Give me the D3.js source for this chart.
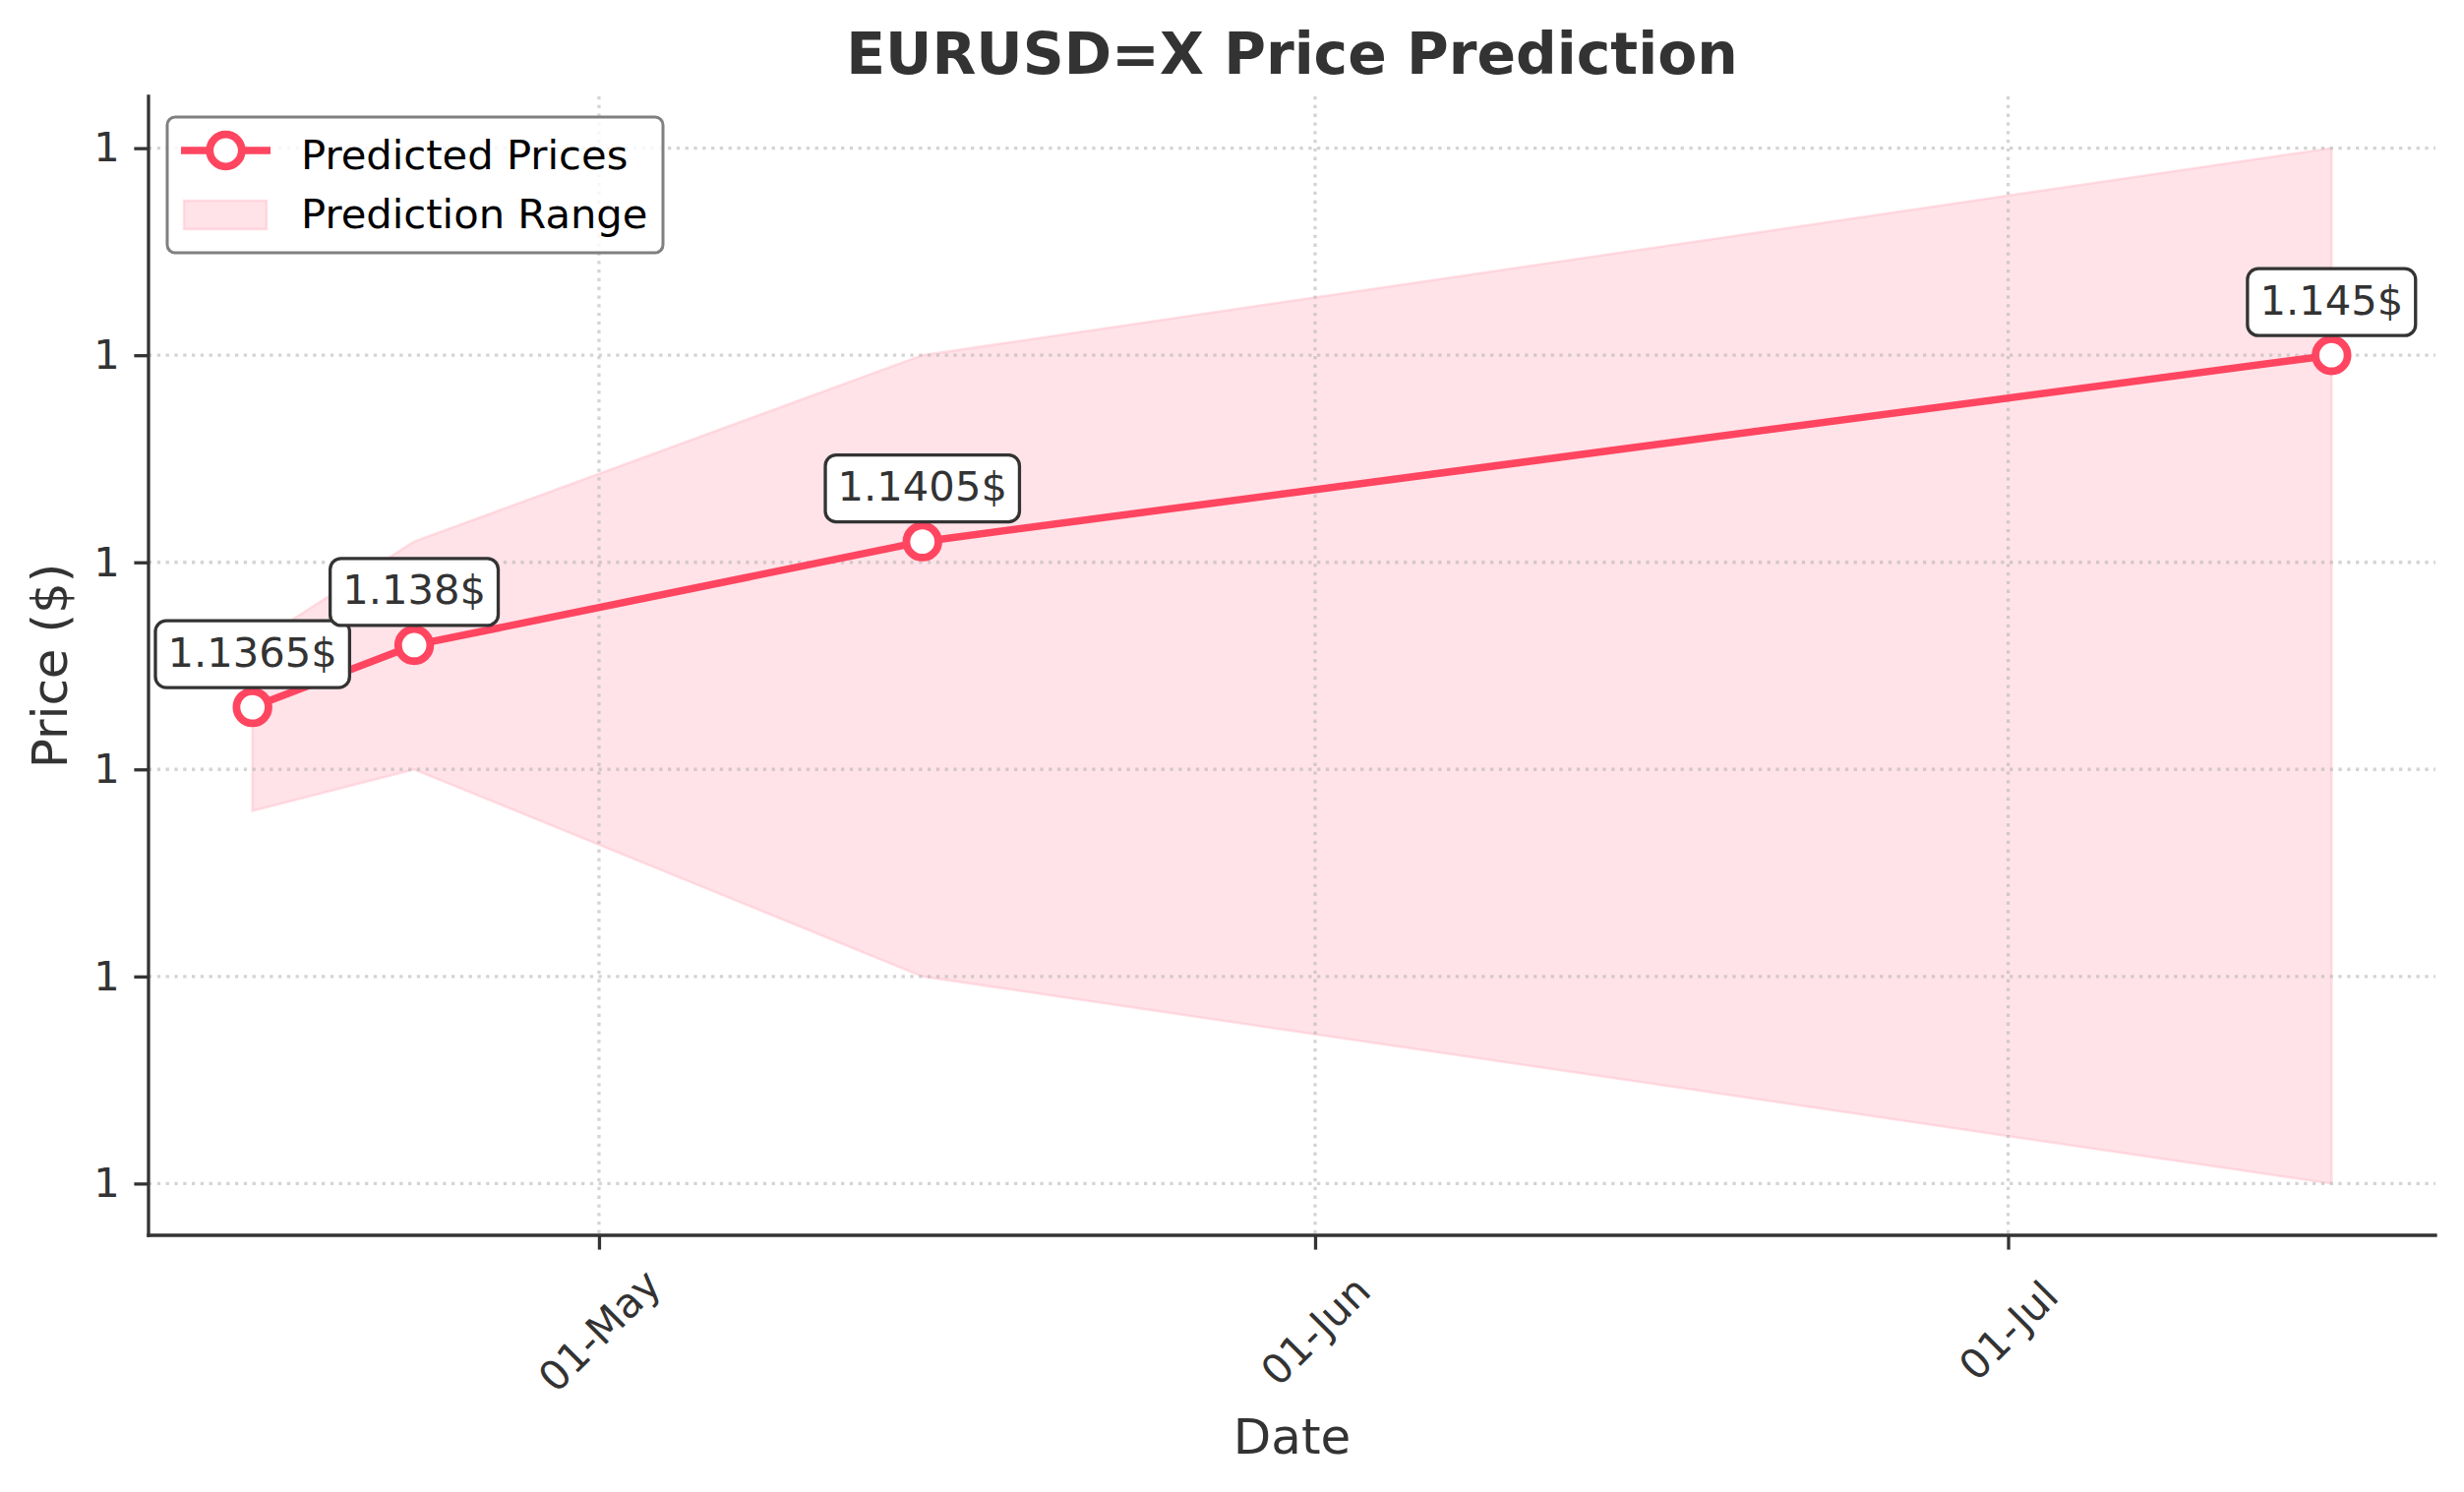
<!DOCTYPE html>
<html>
<head>
<meta charset="utf-8">
<script src="https://cdn.jsdelivr.net/npm/d3@7/dist/d3.min.js"></script>
<style>
  html, body { margin: 0; padding: 0; background: #ffffff; }
  svg { display: block; font-family: "DejaVu Sans", sans-serif; }
</style>
</head>
<body>
<svg id="chart" width="2505" height="1517"></svg>
<script>
// ---- data ----
const dates = ["2025-04-16", "2025-04-23", "2025-05-15", "2025-07-15"];
const predicted = [1.1365, 1.138, 1.1405, 1.145];
const upperBound = [1.138, 1.1405, 1.145, 1.15];
const lowerBound = [1.134, 1.135, 1.13, 1.125];
const annotationLabels = ["1.1365$", "1.138$", "1.1405$", "1.145$"];
const yTickValues = [1.125, 1.13, 1.135, 1.14, 1.145, 1.15];
const xTickDates = ["2025-05-01", "2025-06-01", "2025-07-01"];
const xDomain = ["2025-04-11T12:00:00", "2025-07-19T12:00:00"];
const yDomain = [1.12375, 1.15125];
const titleText = "EURUSD=X Price Prediction";
const xLabelText = "Date";
const yLabelText = "Price ($)";
const legendLabels = ["Predicted Prices", "Prediction Range"];

// ---- style ----
const W = 2505, H = 1517;
const plot = { left: 151, right: 2476, top: 98, bottom: 1256 };
const lineColor = "#ff4560";
const bandFill = "#ffc0cb";
const textColor = "#333333";
const fs = 41.7;

const parse = d3.timeParse("%Y-%m-%d");
const parseT = d3.isoParse;
const data = dates.map((d, i) => ({
  date: parse(d), p: predicted[i], hi: upperBound[i], lo: lowerBound[i], label: annotationLabels[i]
}));

const svg = d3.select("#chart");

const x = d3.scaleTime()
  .domain(xDomain.map(parseT))
  .range([plot.left, plot.right]);
const y = d3.scaleLinear()
  .domain(yDomain)
  .range([plot.bottom, plot.top]);

// band
const area = d3.area()
  .x(d => x(d.date))
  .y0(d => y(d.lo))
  .y1(d => y(d.hi));
svg.append("path")
  .datum(data)
  .attr("d", area)
  .attr("fill", bandFill)
  .attr("fill-opacity", 0.45)
  .attr("stroke", bandFill)
  .attr("stroke-opacity", 0.5)
  .attr("stroke-width", 2.5);

// grid
const grid = svg.append("g");
grid.selectAll("line.gy").data(yTickValues).enter().append("line")
  .attr("x1", plot.left).attr("x2", plot.right)
  .attr("y1", d => y(d)).attr("y2", d => y(d))
  .attr("stroke", "#b0b0b0").attr("stroke-opacity", 0.55)
  .attr("stroke-width", 3.3).attr("stroke-dasharray", "3.3,5.5");
grid.selectAll("line.gx").data(xTickDates.map(parse)).enter().append("line")
  .attr("y1", plot.top).attr("y2", plot.bottom)
  .attr("x1", d => x(d)).attr("x2", d => x(d))
  .attr("stroke", "#b0b0b0").attr("stroke-opacity", 0.55)
  .attr("stroke-width", 3.3).attr("stroke-dasharray", "3.3,5.5");

// line
const line = d3.line().x(d => x(d.date)).y(d => y(d.p));
svg.append("path")
  .datum(data)
  .attr("d", line)
  .attr("fill", "none")
  .attr("stroke", lineColor)
  .attr("stroke-width", 7.5)
  .attr("stroke-linejoin", "round");

svg.selectAll("circle.pt").data(data).enter().append("circle")
  .attr("cx", d => x(d.date)).attr("cy", d => y(d.p))
  .attr("r", 16.3)
  .attr("fill", "#ffffff")
  .attr("stroke", lineColor)
  .attr("stroke-width", 7.8);

// annotations
const ann = svg.append("g");
data.forEach(d => {
  const cx = x(d.date), py = y(d.p);
  const g = ann.append("g");
  const rect = g.append("rect");
  const t = g.append("text")
    .attr("x", cx).attr("y", py - 41.5)
    .attr("text-anchor", "middle")
    .attr("font-size", fs)
    .attr("fill", textColor)
    .text(d.label);
  const w = t.node().getComputedTextLength();
  const pad = 12.5;
  rect.attr("x", cx - w / 2 - pad).attr("y", py - 88)
    .attr("width", w + 2 * pad).attr("height", 68)
    .attr("rx", 11).attr("ry", 11)
    .attr("fill", "#ffffff").attr("stroke", textColor).attr("stroke-width", 3.3);
});

// axes
const xAxis = d3.axisBottom(x)
  .tickValues(xTickDates.map(parse))
  .tickFormat(d3.timeFormat("%d-%b"))
  .tickSize(14.6).tickPadding(14.6);
const gx = svg.append("g").attr("transform", `translate(0,${plot.bottom})`).call(xAxis);
gx.select(".domain").remove();
gx.selectAll(".tick line").attr("stroke", textColor).attr("stroke-width", 3.3);
gx.selectAll(".tick text")
  .attr("font-size", fs).attr("fill", textColor)
  .attr("font-family", "DejaVu Sans")
  .attr("text-anchor", "middle")
  .attr("dy", null)
  .attr("dominant-baseline", "central")
  .attr("y", 0)
  .attr("transform", "translate(0,97) rotate(-45)");

const yAxis = d3.axisLeft(y)
  .tickValues(yTickValues)
  .tickFormat(d3.format(".0f"))
  .tickSize(14.6).tickPadding(14.6);
const gy = svg.append("g").attr("transform", `translate(${plot.left},0)`).call(yAxis);
gy.select(".domain").remove();
gy.selectAll(".tick line").attr("stroke", textColor).attr("stroke-width", 3.3);
gy.selectAll(".tick text")
  .attr("font-size", fs).attr("fill", textColor)
  .attr("font-family", "DejaVu Sans");

// spines
svg.append("line")
  .attr("x1", plot.left).attr("x2", plot.left)
  .attr("y1", plot.top).attr("y2", plot.bottom)
  .attr("stroke", textColor).attr("stroke-width", 3.3).attr("stroke-linecap", "square");
svg.append("line")
  .attr("x1", plot.left).attr("x2", plot.right)
  .attr("y1", plot.bottom).attr("y2", plot.bottom)
  .attr("stroke", textColor).attr("stroke-width", 3.3).attr("stroke-linecap", "square");

// labels
const cxPlot = (plot.left + plot.right) / 2;
svg.append("text")
  .attr("x", cxPlot).attr("y", 75)
  .attr("text-anchor", "middle")
  .attr("font-size", 58.3).attr("font-weight", "bold")
  .attr("fill", textColor)
  .text(titleText);
svg.append("text")
  .attr("x", cxPlot).attr("y", 1478)
  .attr("text-anchor", "middle")
  .attr("font-size", 50).attr("fill", textColor)
  .text(xLabelText);
svg.append("text")
  .attr("transform", `translate(68,${(plot.top + plot.bottom) / 2}) rotate(-90)`)
  .attr("text-anchor", "middle")
  .attr("font-size", 50).attr("fill", textColor)
  .text(yLabelText);

// legend
const lg = svg.append("g");
lg.append("rect")
  .attr("x", 170).attr("y", 119).attr("width", 504).attr("height", 138)
  .attr("rx", 8).attr("ry", 8)
  .attr("fill", "#ffffff").attr("fill-opacity", 0.8)
  .attr("stroke", "#808080").attr("stroke-width", 3);
lg.append("line")
  .attr("x1", 184).attr("x2", 275).attr("y1", 153).attr("y2", 153)
  .attr("stroke", lineColor).attr("stroke-width", 7.5);
lg.append("circle")
  .attr("cx", 229.5).attr("cy", 153).attr("r", 16.3)
  .attr("fill", "#ffffff").attr("stroke", lineColor).attr("stroke-width", 7.8);
lg.append("rect")
  .attr("x", 187).attr("y", 204).attr("width", 84).attr("height", 29)
  .attr("fill", bandFill).attr("fill-opacity", 0.45)
  .attr("stroke", bandFill).attr("stroke-opacity", 0.5).attr("stroke-width", 2.5);
lg.append("text").attr("x", 306).attr("y", 172)
  .attr("font-size", fs).attr("fill", "#000000").text(legendLabels[0]);
lg.append("text").attr("x", 306).attr("y", 232)
  .attr("font-size", fs).attr("fill", "#000000").text(legendLabels[1]);
</script>
</body>
</html>
